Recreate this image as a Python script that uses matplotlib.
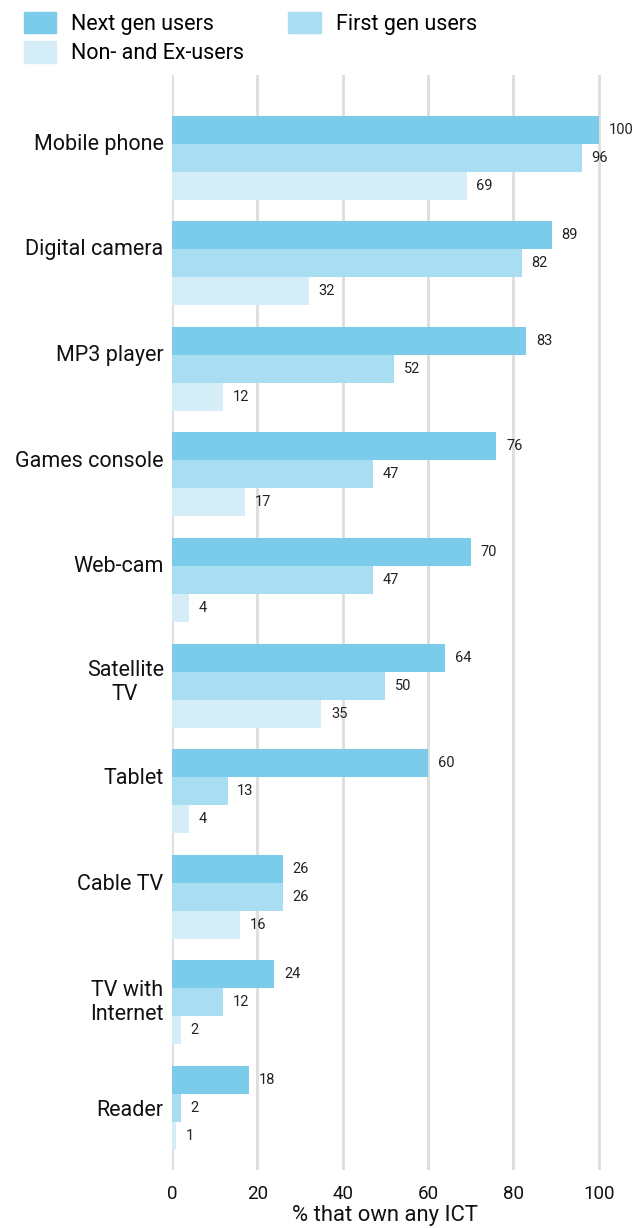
import numpy as np
import matplotlib.pyplot as plt
from matplotlib.patches import Patch

plt.rcParams['font.family'] = ['Roboto', 'DejaVu Sans']

categories = ['Mobile phone', 'Digital camera', 'MP3 player', 'Games console',
              'Web-cam', 'Satellite\nTV', 'Tablet', 'Cable TV',
              'TV with\nInternet', 'Reader']
next_gen  = [100, 89, 83, 76, 70, 64, 60, 26, 24, 18]
first_gen = [96, 82, 52, 47, 47, 50, 13, 26, 12, 2]
non_users = [69, 32, 12, 17, 4, 35, 4, 16, 2, 1]

# vertical nudge of each category label relative to its group centre
label_shift = [-0.15, -0.15, -0.15, -0.15, -0.15, -0.07, -0.14, -0.14, -0.04, 0.0]

series = [('Next gen users', next_gen, '#7accea'),
          ('First gen users', first_gen, '#a9def2'),
          ('Non- and Ex-users', non_users, '#d5edf7')]

fig = plt.figure(figsize=(6.42, 12.28), dpi=100)
ax = fig.add_axes([0.268, 0.0472, 0.698, 0.892])

y = np.arange(len(categories))
h = 0.265
handles = []
for i, (name, vals, col) in enumerate(series):
    pos = y + (i - 1) * h
    ax.barh(pos, vals, height=h, color=col, zorder=2)
    for p, v in zip(pos, vals):
        ax.annotate(str(v), (v, p), xytext=(7, 0), textcoords='offset points',
                    ha='left', va='center', fontsize=10.5, color='#222222')
    handles.append(Patch(color=col, label=name))

ax.set_ylim(9.587, -0.786)
ax.set_xlim(0, 105)
ax.set_xticks([0, 20, 40, 60, 80, 100])
ax.set_yticks(y + np.array(label_shift))
ax.set_yticklabels(categories, multialignment='center', fontsize=15.5)
ax.tick_params(axis='both', length=0, colors='#111111')
ax.tick_params(axis='x', labelsize=13.5, pad=11)
ax.tick_params(axis='y', pad=6)
ax.xaxis.grid(True, color='#dddddd', linewidth=2, zorder=0)
ax.set_axisbelow(True)
for s in ax.spines.values():
    s.set_visible(False)
ax.set_xlabel('% that own any ICT', fontsize=15.8, color='#111111')
ax.xaxis.set_label_coords(0.475, -0.032)

fig.legend([handles[0], handles[2], handles[1]],
           [handles[0].get_label(), handles[2].get_label(), handles[1].get_label()],
           ncol=2, loc='upper left', bbox_to_anchor=(0.007, 1.006), frameon=False,
           fontsize=15.5, handlelength=1.5, handleheight=1.15, handletextpad=0.7,
           columnspacing=2.05, labelspacing=0.3)

fig.savefig('out.png', dpi=100)
